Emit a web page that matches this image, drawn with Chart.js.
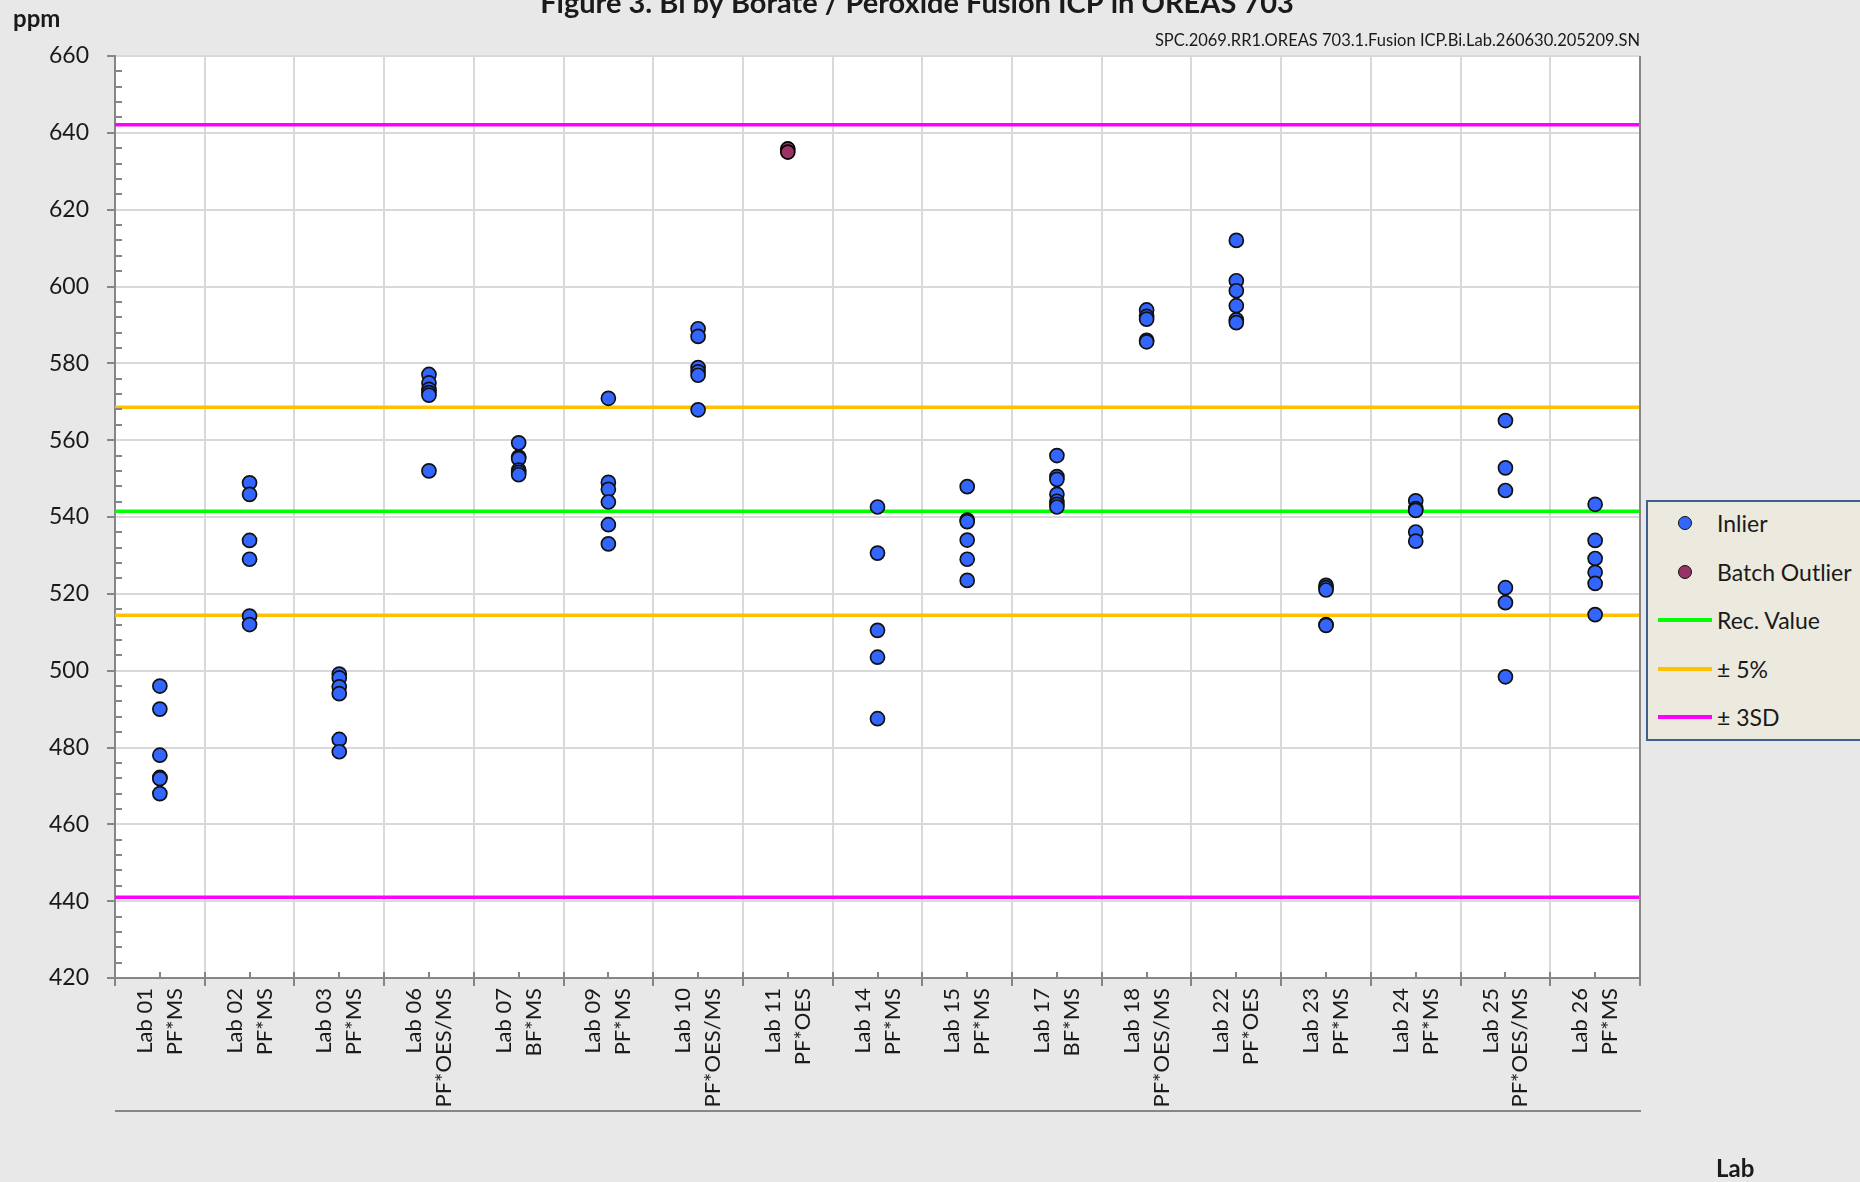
<!DOCTYPE html>
<html>
<head>
<meta charset="utf-8">
<title>Figure 3. Bi by Borate / Peroxide Fusion ICP in OREAS 703</title>
<script src="https://cdn.jsdelivr.net/npm/chart.js@4.4.1/dist/chart.umd.min.js"></script>
<style>
  html, body { margin: 0; padding: 0; overflow: hidden; background: #e8e8e8; }
  #wrap { position: relative; width: 1860px; height: 1182px; }
  #chart { position: absolute; left: 0; top: 0; }
  #legend {
    position: absolute; left: 1646px; top: 500px; width: 240px; height: 237px;
    background: #ece9df; border: 2px solid #3f5f8c;
    font-family: Lato, sans-serif; font-size: 23px; color: #1a1a1a;
  }
  #legend .item { position: absolute; left: 0; width: 100%; height: 30px; }
  #legend .dot { position: absolute; left: 30px; top: 8px; width: 12px; height: 12px; border-radius: 50%; border: 1.7px solid #111; }
  #legend .line { position: absolute; left: 10px; top: 13px; width: 54px; height: 3.5px; }
  #legend .text { position: absolute; left: 69px; top: 0; line-height: 30px; white-space: nowrap; }
</style>
</head>
<body>
<div id="wrap">
  <canvas id="chart" width="1860" height="1182"></canvas>
  <div id="legend"></div>
</div>
<script>
// --- data ---
const labs = ['Lab 01', 'Lab 02', 'Lab 03', 'Lab 06', 'Lab 07', 'Lab 09', 'Lab 10', 'Lab 11', 'Lab 14',
              'Lab 15', 'Lab 17', 'Lab 18', 'Lab 22', 'Lab 23', 'Lab 24', 'Lab 25', 'Lab 26'];
const methods = ['PF*MS', 'PF*MS', 'PF*MS', 'PF*OES/MS', 'BF*MS', 'PF*MS', 'PF*OES/MS', 'PF*OES', 'PF*MS',
                 'PF*MS', 'BF*MS', 'PF*OES/MS', 'PF*OES', 'PF*MS', 'PF*MS', 'PF*OES/MS', 'PF*MS'];

// Bi (ppm), inliers per lab, same order as labs
const inlierValues = [
  [496.0, 490.0, 478.0, 472.2, 471.9, 468.0],
  [548.9, 545.9, 533.9, 529.0, 514.2, 512.0],
  [499.1, 498.1, 495.8, 494.0, 482.1, 478.9],
  [577.1, 574.9, 573.2, 572.4, 571.7, 552.0],
  [559.3, 555.6, 555.2, 552.2, 551.6, 551.0],
  [570.9, 549.0, 547.2, 543.9, 538.0, 533.0],
  [589.0, 587.0, 578.9, 577.8, 576.9, 567.9],
  [],
  [542.6, 530.6, 510.5, 503.5, 487.5],
  [547.9, 539.2, 538.8, 534.0, 529.0, 523.5],
  [556.0, 550.5, 549.8, 545.9, 544.1, 543.3, 542.6],
  [593.9, 592.2, 591.5, 586.0, 585.6],
  [612.0, 601.5, 598.9, 595.0, 591.3, 590.6],
  [522.2, 521.6, 521.0, 512.0, 511.8],
  [544.2, 542.2, 541.7, 536.1, 533.7],
  [565.1, 552.8, 546.9, 521.6, 517.7, 498.4],
  [543.3, 533.9, 529.2, 525.6, 522.7, 514.6]
];

// batch outliers
const outlierLabs = ['Lab 11', 'Lab 11'];
const outlierValues = [635.8, 635.0];

// reference lines
const recValue = 541.5;
const pct5Low = 514.4, pct5High = 568.6;
const sd3Low = 441.0, sd3High = 642.1;

// y axis
const yMin = 420, yMax = 660, yStep = 20, yMinorStep = 4;

const titleText = 'Figure 3. Bi by Borate / Peroxide Fusion ICP in OREAS 703';
const subText = 'SPC.2069.RR1.OREAS 703.1.Fusion ICP.Bi.Lab.260630.205209.SN';

// --- colours ---
const inlierColor = '#3366ff';
const outlierColor = '#993366';
const recColor = '#00ff00';
const pct5Color = '#ffc000';
const sd3Color = '#ff00ff';
const axisColor = '#868686';
const gridColor = '#d9d9d9';
const textColor = '#1a1a1a';

const inlierPoints = inlierValues.flatMap((vals, i) => vals.map(v => ({ x: labs[i], y: v })));
const outlierPoints = outlierValues.map((v, i) => ({ x: outlierLabs[i], y: v }));

function hLine(label, value, color) {
  return {
    type: 'line', label: label, xAxisID: 'xl',
    data: [{ x: 0, y: value }, { x: 1, y: value }],
    borderColor: color, borderWidth: 3.5, pointRadius: 0, fill: false
  };
}

// --- frame, ticks and loose texts ---
const chartDecor = {
  id: 'chartDecor',
  beforeDraw(chart) {
    const { ctx, chartArea: a } = chart;
    ctx.save();
    ctx.fillStyle = '#ffffff';
    ctx.fillRect(a.left, a.top, a.right - a.left, a.bottom - a.top);
    ctx.restore();
  },
  afterDraw(chart) {
    const { ctx, chartArea: a, scales } = chart;
    ctx.save();
    ctx.strokeStyle = axisColor;
    ctx.lineWidth = 2;
    ctx.beginPath();
    // minor ticks, inside the plot
    for (let v = yMin; v <= yMax; v += yMinorStep) {
      if (v % yStep === 0) continue;
      const py = Math.round(scales.y.getPixelForValue(v));
      ctx.moveTo(a.left, py); ctx.lineTo(a.left + 7, py);
    }
    labs.forEach((l, i) => {
      const px = Math.round(scales.x.getPixelForValue(i));
      ctx.moveTo(px, a.bottom); ctx.lineTo(px, a.bottom - 6);
      const bx = Math.round(scales.x.getPixelForValue(i - 0.5));
      ctx.moveTo(bx, a.bottom); ctx.lineTo(bx, a.bottom - 6);
    });
    // right frame and rule under the labels
    ctx.moveTo(a.right, a.top); ctx.lineTo(a.right, a.bottom + 8);
    ctx.moveTo(a.left, a.bottom + 133); ctx.lineTo(a.right + 1, a.bottom + 133);
    ctx.stroke();

    ctx.fillStyle = textColor;
    ctx.textBaseline = 'alphabetic';
    ctx.font = 'bold 29px Lato';
    ctx.textAlign = 'center';
    ctx.fillText(titleText, 917, 13);
    ctx.font = 'bold 24px Lato';
    ctx.textAlign = 'left';
    ctx.fillText('ppm', 13, 27);
    ctx.textBaseline = 'middle';
    ctx.fillText('Lab', 1716, 1169);
    ctx.font = '16.5px Lato';
    ctx.textAlign = 'right';
    ctx.fillText(subText, a.right, 41);
    ctx.restore();
  }
};

new Chart(document.getElementById('chart'), {
  type: 'line',
  data: {
    labels: labs,
    datasets: [
      {
        label: 'Inlier', data: inlierPoints, showLine: false,
        pointRadius: 7, pointBackgroundColor: inlierColor, pointBorderColor: '#111111', pointBorderWidth: 1.7
      },
      {
        label: 'Batch Outlier', data: outlierPoints, showLine: false,
        pointRadius: 7, pointBackgroundColor: outlierColor, pointBorderColor: '#000000', pointBorderWidth: 1.7
      },
      hLine('Rec. Value', recValue, recColor),
      hLine('± 5%', pct5High, pct5Color),
      hLine('± 5%', pct5Low, pct5Color),
      hLine('± 3SD', sd3High, sd3Color),
      hLine('± 3SD', sd3Low, sd3Color)
    ]
  },
  options: {
    responsive: false,
    animation: false,
    layout: { padding: { top: 56, right: 220, bottom: 0, left: 0 } },
    plugins: { legend: { display: false }, tooltip: { enabled: false }, title: { display: false } },
    scales: {
      x: {
        type: 'category',
        offset: true,
        grid: { offset: true, color: gridColor, lineWidth: 2, tickLength: 8, tickColor: axisColor, tickWidth: 2 },
        border: { color: axisColor, width: 2 },
        ticks: {
          autoSkip: false, minRotation: 90, maxRotation: 90, labelOffset: -15, padding: 2,
          color: textColor, font: { family: 'Lato', size: 22, lineHeight: 1.36 },
          callback: (v, i) => [labs[i], methods[i]]
        },
        afterFit: s => { s.height = 204; }
      },
      xl: { type: 'linear', min: 0, max: 1, display: false },
      y: {
        type: 'linear', min: yMin, max: yMax,
        grid: { color: gridColor, lineWidth: 2, tickLength: 8, tickColor: axisColor, tickWidth: 2 },
        border: { color: axisColor, width: 2 },
        ticks: { stepSize: yStep, padding: 18, color: textColor, font: { family: 'Lato', size: 23 } },
        afterFit: s => { s.width = 115; }
      }
    }
  },
  plugins: [chartDecor]
});

// --- legend ---
const legendItems = [
  { label: 'Inlier', kind: 'dot', color: inlierColor, y: 21 },
  { label: 'Batch Outlier', kind: 'dot', color: outlierColor, y: 70 },
  { label: 'Rec. Value', kind: 'line', color: recColor, y: 118 },
  { label: '± 5%', kind: 'line', color: pct5Color, y: 167 },
  { label: '± 3SD', kind: 'line', color: sd3Color, y: 215 }
];
const legendEl = document.getElementById('legend');
legendItems.forEach(item => {
  const row = document.createElement('div');
  row.className = 'item';
  row.style.top = (item.y - 15) + 'px';
  const mark = document.createElement('div');
  mark.className = item.kind;
  mark.style.background = item.color;
  const txt = document.createElement('div');
  txt.className = 'text';
  txt.textContent = item.label;
  row.appendChild(mark);
  row.appendChild(txt);
  legendEl.appendChild(row);
});
</script>
</body>
</html>
